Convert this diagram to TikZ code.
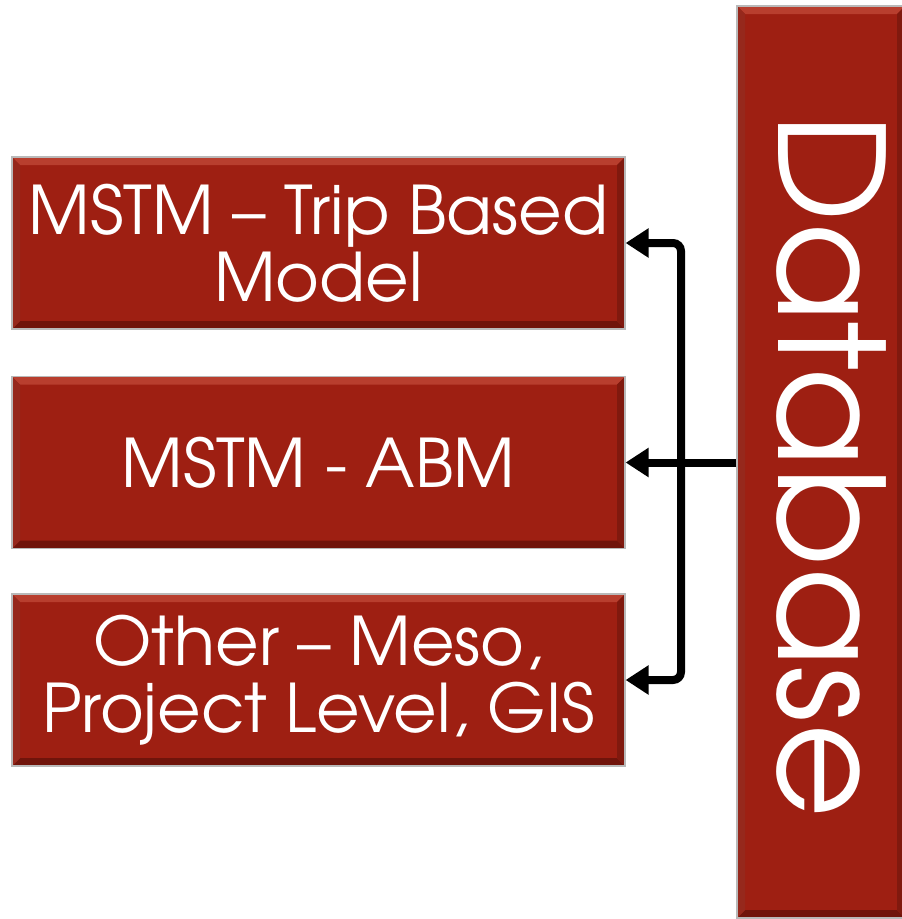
\documentclass[tikz,border=0pt]{standalone}
\usepackage{fontspec}
\setmainfont{TeX Gyre Adventor}
\usetikzlibrary{arrows.meta,calc}
\definecolor{boxred}{RGB}{158,31,18}
\definecolor{bevtop}{RGB}{184,62,46}
\definecolor{bevbot}{RGB}{112,20,11}
\definecolor{bevside}{RGB}{128,25,14}
\definecolor{bevleft}{RGB}{150,40,28}
\tikzset{
  bev/.style={fill=boxred, draw=gray!55, line width=1.2pt, inner sep=0pt,
    path picture={
      \coordinate (pnw) at (path picture bounding box.north west);
      \coordinate (pne) at (path picture bounding box.north east);
      \coordinate (psw) at (path picture bounding box.south west);
      \coordinate (pse) at (path picture bounding box.south east);
      \fill[bevtop] (pnw) -- (pne) -- ($(pne)+(-#1,#1)$) -- ($(pnw)+(#1,#1)$) -- cycle;
      \fill[bevbot] (psw) -- (pse) -- ($(pse)+(-#1,-#1)$) -- ($(psw)+(#1,-#1)$) -- cycle;
      \fill[bevleft] (pnw) -- (psw) -- ($(psw)+(#1,-#1)$) -- ($(pnw)+(#1,#1)$) -- cycle;
      \fill[bevside] (pne) -- (pse) -- ($(pse)+(-#1,-#1)$) -- ($(pne)+(-#1,#1)$) -- cycle;
    }},
  bev/.default=8,
  modelbox/.style={bev, minimum width=613pt, minimum height=172pt, text=white,
    align=center, font=\fontsize{67}{67}\selectfont},
  conn/.style={line width=8pt, draw=black},
}
\begin{document}
\begin{tikzpicture}[x=1pt,y=-1pt]
\useasboundingbox (0,0) rectangle (902,919);
\node[modelbox] (b1) at (318.5,243) {MSTM -- Trip Based\\Model};
\node[modelbox] (b2) at (318.5,462.5) {MSTM - ABM};
\node[modelbox] (b3) at (318.5,680) {Other -- Meso,\\Project Level, GIS};
\node[bev, minimum width=168pt, minimum height=912pt] (db) at (821,462) {};
\node[text=white, rotate=-90, anchor=base, inner sep=0pt,
  font=\fontsize{146}{146}\selectfont] (dbt) at (778,466) {Database};
\coordinate (jx) at (681,0);
\draw[conn, rounded corners=8pt, {Triangle[length=23pt,width=28pt]}-{Triangle[length=23pt,width=28pt]}]
  (b1.east) -- (b1.east -| jx) -- (b3.east -| jx) -- (b3.east);
\draw[conn, -{Triangle[length=23pt,width=28pt]}] (db.west |- b2.east) -- (b2.east);
\end{tikzpicture}
\end{document}
